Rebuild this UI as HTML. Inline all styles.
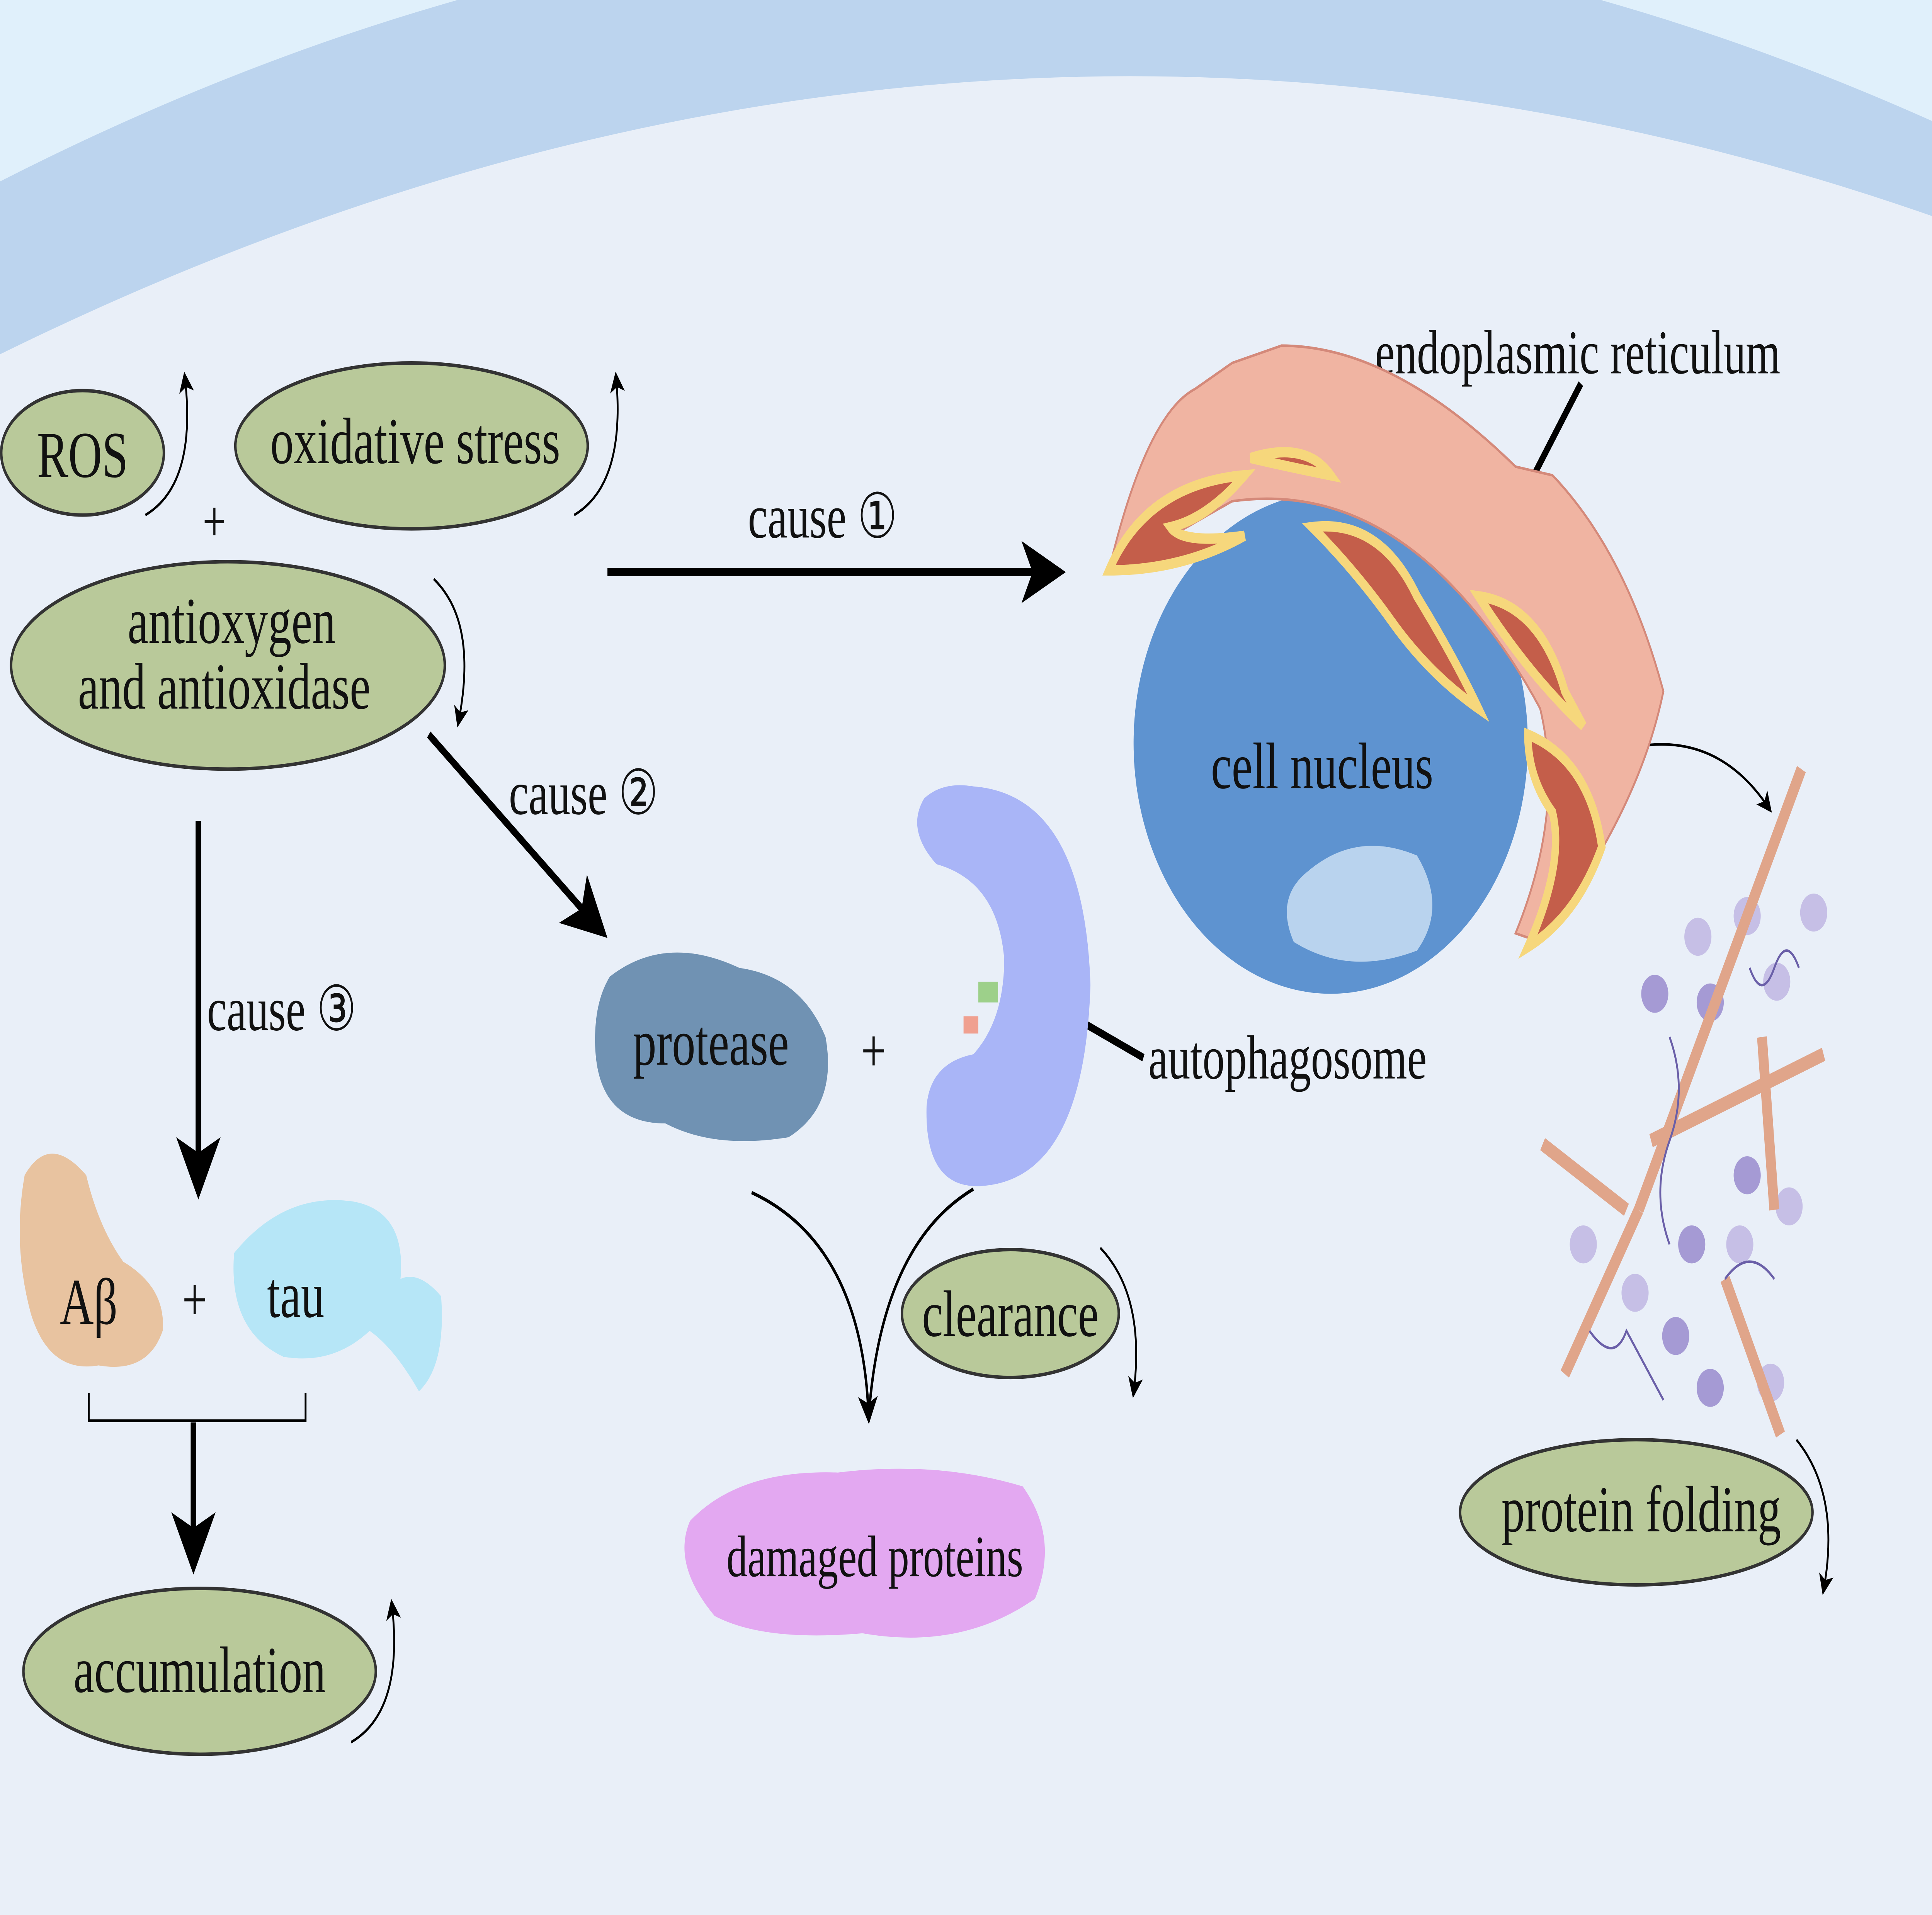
<!DOCTYPE html>
<html><head><meta charset="utf-8"><style>
html,body{margin:0;padding:0;background:#e9eff8;width:100%;height:100%;overflow:hidden;}
svg{display:block;position:absolute;left:0;top:0;width:100vw;height:100vh;}
text{font-family:"Liberation Serif",serif;fill:#111;}
</style></head><body>
<svg viewBox="0 0 1568 1108" preserveAspectRatio="none" xmlns="http://www.w3.org/2000/svg">
<defs>
<marker id="ah" markerWidth="8" markerHeight="8" refX="6" refY="4" orient="auto" markerUnits="strokeWidth"><path d="M0,0 L8,4 L0,8 L2,4z" fill="#000"/></marker>
</defs>
<rect width="1568" height="1108" fill="#e9eff8"/>
<path d="M0,0 L1568,0 L1568,70 Q784,-180 0,105 Z" fill="#e0f0fb"/>
<path d="M0,105 Q784,-180 1568,70 L1568,125 Q784,-70 0,205 Z" fill="#bcd4ee"/>

<g fill="#b9c99a" stroke="#333" stroke-width="2">
<ellipse cx="67" cy="262" rx="66" ry="36"/>
<ellipse cx="334" cy="258" rx="143" ry="48"/>
<ellipse cx="185" cy="385" rx="176" ry="60"/>
<ellipse cx="820" cy="760" rx="88" ry="37"/>
<ellipse cx="162" cy="967" rx="143" ry="48"/>
<ellipse cx="1328" cy="875" rx="143" ry="42"/>
</g>
<g font-size="38" text-anchor="middle">
<text x="67" y="276">ROS</text>
<text x="337" y="268">oxidative stress</text>
<text x="188" y="372">antioxygen</text>
<text x="182" y="410">and antioxidase</text>
<text x="820" y="773">clearance</text>
<text x="162" y="979">accumulation</text>
<text x="1332" y="886">protein folding</text>
</g>
<text x="174" y="313" font-size="34" text-anchor="middle">+</text>

<g fill="none" stroke="#000" stroke-width="1.5">
<path d="M118,298 Q160,280 150,218" marker-end="url(#ah)"/>
<path d="M466,298 Q508,280 500,218" marker-end="url(#ah)"/>
<path d="M352,335 Q388,360 372,418" marker-end="url(#ah)"/>
<path d="M893,722 Q930,750 920,806" marker-end="url(#ah)"/>
<path d="M285,1008 Q328,990 318,928" marker-end="url(#ah)"/>
<path d="M1458,833 Q1494,865 1480,920" marker-end="url(#ah)"/>
<path d="M1310,435 Q1390,418 1436,468" marker-end="url(#ah)"/>
</g>

<g stroke="#000" stroke-width="4.5" fill="none">
<line x1="493" y1="331" x2="856" y2="331" marker-end="url(#ah)"/>
<line x1="348" y1="425" x2="486" y2="537" marker-end="url(#ah)"/>
<line x1="161" y1="475" x2="161" y2="685" marker-end="url(#ah)"/>
<line x1="157" y1="823" x2="157" y2="902" marker-end="url(#ah)"/>
<line x1="870" y1="588" x2="928" y2="612"/>
<line x1="1283" y1="222" x2="1216" y2="315"/>
</g>
<path d="M72,806 L72,822 L248,822 L248,806" fill="none" stroke="#000" stroke-width="1.5"/>
<g font-size="36">
<text x="607" y="311">cause ①</text>
<text x="413" y="471">cause ②</text>
<text x="168" y="596">cause ③</text>
<text x="932" y="624">autophagosome</text>
<text x="1116" y="216">endoplasmic reticulum</text>
</g>

<ellipse cx="1080" cy="430" rx="160" ry="145" fill="#5e93d0"/>
<path d="M1060,505 Q1100,480 1150,495 Q1175,525 1150,550 Q1095,565 1050,545 Q1035,520 1060,505Z" fill="#b9d3ee"/>

<g stroke="#d4897a" stroke-width="1.5">
<path d="M900,330 Q930,240 970,225 L1000,210 L1040,200 Q1130,200 1230,270 L1260,275 Q1320,320 1350,400 Q1330,470 1250,545 L1230,540 Q1270,470 1250,410 Q1220,370 1180,340 Q1100,280 1000,290 Q950,310 905,330Z" fill="#f0b4a2"/>
</g>
<g fill="#c45e4a" stroke="#f6d77c" stroke-width="6">
<path d="M900,330 Q930,280 1010,275 Q980,300 950,305 Q960,315 1010,310 Q960,330 900,330Z"/>
<path d="M1015,265 Q1060,255 1080,275 Q1045,270 1015,265Z"/>
<path d="M1065,305 Q1120,300 1150,345 Q1180,380 1200,410 Q1160,390 1130,360 Q1100,330 1065,305Z"/>
<path d="M1200,345 Q1250,350 1270,400 Q1285,420 1285,420 Q1240,390 1200,345Z"/>
<path d="M1240,425 Q1290,440 1300,490 Q1280,530 1240,548 Q1270,500 1260,470 Q1240,450 1240,425Z"/>
</g>
<text x="1073" y="456" font-size="38" text-anchor="middle">cell nucleus</text>

<path d="M495,565 Q540,540 600,560 Q650,565 670,600 Q680,640 640,658 Q580,665 540,650 Q485,650 483,605 Q482,580 495,565Z" fill="#7092b3"/>
<text x="577" y="616" font-size="38" text-anchor="middle">protease</text>
<text x="709" y="620" font-size="36" text-anchor="middle">+</text>

<path d="M790,455 Q880,460 885,570 Q880,680 800,686 Q750,690 752,640 Q755,615 790,610 Q815,590 815,555 Q810,510 760,500 Q735,480 750,462 Q765,452 790,455Z" fill="#a9b5f7"/>
<rect x="794" y="568" width="16" height="12" fill="#9dd08a"/>
<rect x="782" y="588" width="12" height="10" fill="#f0a090"/>

<g fill="none" stroke="#000" stroke-width="2">
<path d="M610,690 Q700,720 705,820" marker-end="url(#ah)"/>
<path d="M790,688 Q715,720 705,820"/>
</g>
<path d="M560,880 Q600,850 680,852 Q760,845 830,860 Q860,890 840,925 Q780,955 700,945 Q620,950 580,935 Q545,905 560,880Z" fill="#e3a8f1"/>
<text x="710" y="912" font-size="34" text-anchor="middle">damaged proteins</text>

<path d="M20,680 Q40,655 70,680 Q80,710 100,730 Q135,745 132,770 Q120,795 80,790 Q40,795 25,760 Q10,720 20,680Z" fill="#e8c3a0"/>
<text x="72" y="766" font-size="38" text-anchor="middle">Aβ</text>
<text x="158" y="764" font-size="36" text-anchor="middle">+</text>
<path d="M190,725 Q230,690 285,695 Q330,700 325,740 Q340,735 358,750 Q362,790 340,805 Q320,780 300,770 Q270,790 230,785 Q185,770 190,725Z" fill="#b6e6f7"/>
<text x="240" y="762" font-size="38" text-anchor="middle">tau</text>

<g fill="#c6bfe6">
<circle cx="1418" cy="530" r="11"/><circle cx="1472" cy="528" r="11"/><circle cx="1378" cy="542" r="11"/>
<circle cx="1343" cy="575" r="11" fill="#a59ad4"/><circle cx="1388" cy="580" r="11" fill="#a59ad4"/><circle cx="1442" cy="568" r="11"/>
<circle cx="1418" cy="680" r="11" fill="#a59ad4"/><circle cx="1452" cy="698" r="11"/><circle cx="1285" cy="720" r="11"/>
<circle cx="1373" cy="720" r="11" fill="#a59ad4"/><circle cx="1327" cy="748" r="11"/><circle cx="1360" cy="773" r="11" fill="#a59ad4"/>
<circle cx="1388" cy="803" r="11" fill="#a59ad4"/><circle cx="1437" cy="800" r="11"/><circle cx="1412" cy="720" r="11"/>
</g>
<g stroke="#e0a58a" stroke-width="8" fill="none">
<line x1="1462" y1="445" x2="1330" y2="700"/>
<line x1="1330" y1="700" x2="1270" y2="795"/>
<line x1="1340" y1="660" x2="1480" y2="610"/>
<line x1="1252" y1="662" x2="1320" y2="700"/>
<line x1="1430" y1="600" x2="1440" y2="700"/>
<line x1="1400" y1="740" x2="1445" y2="830"/>
</g>
<g stroke="#6a5fa8" stroke-width="1.5" fill="none">
<path d="M1420,560 q10,20 20,0 q10,-20 20,0"/>
<path d="M1355,600 q15,30 0,60 q-15,30 0,60"/>
<path d="M1290,770 q20,20 30,0 q15,20 30,40"/>
<path d="M1400,740 q20,-20 40,0"/>
</g>
</svg>
</body></html>
